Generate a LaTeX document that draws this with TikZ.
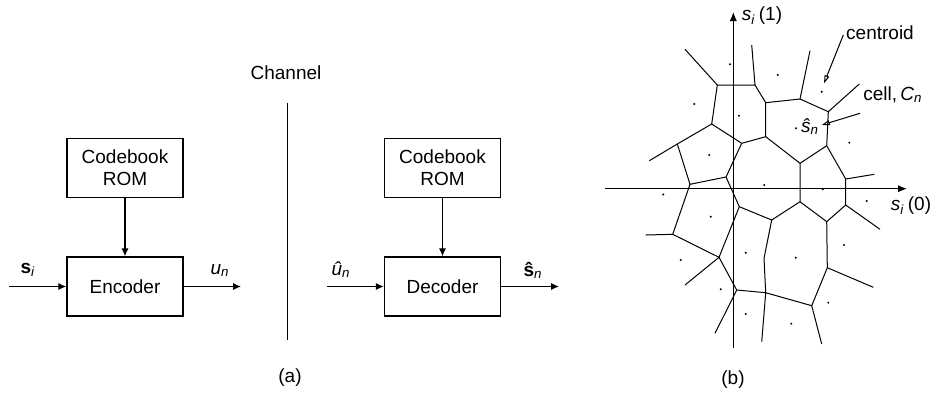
\documentclass[tikz,border=0pt]{standalone}
\usepackage{fontspec}
\setmainfont{Liberation Sans}
\usetikzlibrary{arrows.meta}
\begin{document}
\begin{tikzpicture}[x=0.5pt,y=-0.5pt,
  font=\fontsize{9.5}{11}\selectfont,
  block/.style={draw, line width=0.7pt, minimum width=58pt, minimum height=29.5pt,
                inner sep=0pt, align=center},
  arr/.style={line width=0.6pt, -{Latex[length=4pt,width=3.6pt]}},
  axis/.style={line width=0.6pt, -{Latex[length=4.5pt,width=3.6pt]}},
  cellline/.style={line width=0.5pt},
  pointer/.style={line width=0.5pt, -{Triangle[open,length=4pt,width=2.4pt]}},
  lbl/.style={inner sep=0pt}]
\useasboundingbox (0,0) rectangle (930,392);

% ---------- (a) encoder side ----------
\node[block] (cbE) at (125,168) {Codebook\\ROM};
\node[block] (enc) at (125,286.5) {Encoder};
\draw[arr] (cbE.south) -- (enc.north);
\coordinate (sIn) at (9,286.5);
\coordinate (uOut) at (241,286.5);
\draw[arr] (sIn) -- (enc.west);
\draw[arr] (enc.east) -- (uOut);
\node[lbl] (sLbl) at (28,270) {\textbf{s}\textsubscript{\textit{i}}};
\node[lbl] (uLbl) at (220,270) {\textit{u}\textsubscript{\textit{n}}};

% ---------- channel ----------
\node[lbl] (chan) at (286,73) {Channel};
\coordinate (chTop) at (287,103);
\coordinate (chBot) at (287,340);
\draw[line width=0.5pt] (chTop) -- (chBot);

% ---------- (a) decoder side ----------
\node[block] (cbD) at (442.5,168) {Codebook\\ROM};
\node[block] (dec) at (442.5,286.5) {Decoder};
\draw[arr] (cbD.south) -- (dec.north);
\coordinate (uIn) at (326.5,286.5);
\coordinate (sOut) at (559,286.5);
\draw[arr] (uIn) -- (dec.west);
\draw[arr] (dec.east) -- (sOut);
\node[lbl] (uhLbl) at (341,270) {\textit{\^{u}}\textsubscript{\textit{n}}};
\node[lbl] (shLbl) at (533,270) {\textbf{\^{s}}\textsubscript{\textit{n}}};

\node[lbl] (capA) at (290,378) {(a)};

% ---------- (b) axes ----------
\coordinate (yBot) at (733.3,348);
\coordinate (yTop) at (733.3,12);
\coordinate (xLeft) at (605,188.7);
\coordinate (xRight) at (907,188.7);
\draw[axis] (yBot) -- (yTop);
\draw[axis] (xLeft) -- (xRight);
\node[lbl] (y1) at (762,16) {\textit{s}\textsubscript{\textit{i}}\,(1)};
\node[lbl] (x0) at (911,206) {\textit{s}\textsubscript{\textit{i}}\,(0)};

% ---------- (b) Voronoi cells ----------
\coordinate (A) at (717.3,85);
\coordinate (B) at (755,85);
\coordinate (C) at (765.7,102.7);
\coordinate (D) at (800,99);
\coordinate (E) at (828.3,111.7);
\coordinate (F) at (826.7,145.7);
\coordinate (G) at (765.7,136.7);
\coordinate (H) at (800,163.3);
\coordinate (I) at (711.7,124);
\coordinate (J) at (741.7,143.3);
\coordinate (K) at (677.3,144);
\coordinate (L) at (690,184.3);
\coordinate (M) at (726,177);
\coordinate (N) at (845.7,179);
\coordinate (P) at (800,201.7);
\coordinate (Q) at (845.7,205);
\coordinate (R) at (826.7,221.7);
\coordinate (S) at (771.7,220);
\coordinate (T) at (739.3,206.7);
\coordinate (U) at (672.7,234.3);
\coordinate (V) at (719,257.3);
\coordinate (W) at (736.7,290);
\coordinate (X) at (765.7,292.7);
\coordinate (Y) at (764,258.3);
\coordinate (Z) at (811.7,305.7);
\coordinate (AA) at (827.3,267.7);

\draw[cellline] (685,49.3) -- (A) -- (B) -- (751.7,45);
\draw[cellline] (B) -- (C) -- (D) -- (810,50.7);
\draw[cellline] (D) -- (E) -- (859.3,84);
\draw[cellline] (E) -- (F) -- (H) -- (G) -- (C);
\draw[cellline] (A) -- (I) -- (J) -- (G);
\draw[cellline] (I) -- (K) -- (649.3,160.7);
\draw[cellline] (K) -- (L) -- (M) -- (J);
\draw[cellline] (F) -- (N) -- (874.3,174.3);
\draw[cellline] (N) -- (Q) -- (880,229.3);
\draw[cellline] (H) -- (P) -- (R) -- (Q);
\draw[cellline] (P) -- (S) -- (T) -- (M);
\draw[cellline] (L) -- (U) -- (645.7,235);
\draw[cellline] (U) -- (V) -- (T);
\draw[cellline] (V) -- (685,285);
\draw[cellline] (V) -- (W) -- (X) -- (Y) -- (S);
\draw[cellline] (W) -- (715,333.3);
\draw[cellline] (X) -- (761.7,341.7);
\draw[cellline] (X) -- (Z) -- (821.7,344);
\draw[cellline] (R) -- (AA) -- (Z);
\draw[cellline] (AA) -- (873.3,287.3);

% centroids
\foreach \p in {(730,64.3),(777.7,75),(694.3,104),(739,115.7),(821.7,91.7),
                (796,128.3),(849.3,142.7),(709.3,155),(764.3,185),(663.3,194.5),
                (822.7,189.3),(866.7,201),(710.7,216.7),(844,245),(745.7,252.7),
                (795.7,257.7),(680.7,260),(720.7,289.3),(828.3,302.7),(745.7,314),
                (791.3,323.7)}
  \fill \p circle (0.55pt);

% annotations
\node[lbl] (cent) at (880,33) {centroid};
\node[lbl] (cell) at (893,95) {cell,\,\textit{C}\textsubscript{\textit{n}}};
\node[lbl] (shat) at (810,127) {\textit{\^{s}}\textsubscript{\textit{n}}};
\coordinate (centFrom) at (843.3,35);
\coordinate (centTo) at (824,83.3);
\coordinate (cellFrom) at (860,113.3);
\coordinate (cellTo) at (821.7,125);
\draw[pointer] (centFrom) -- (centTo);
\draw[pointer] (cellFrom) -- (cellTo);

\node[lbl] (capB) at (733,380) {(b)};
\end{tikzpicture}
\end{document}
